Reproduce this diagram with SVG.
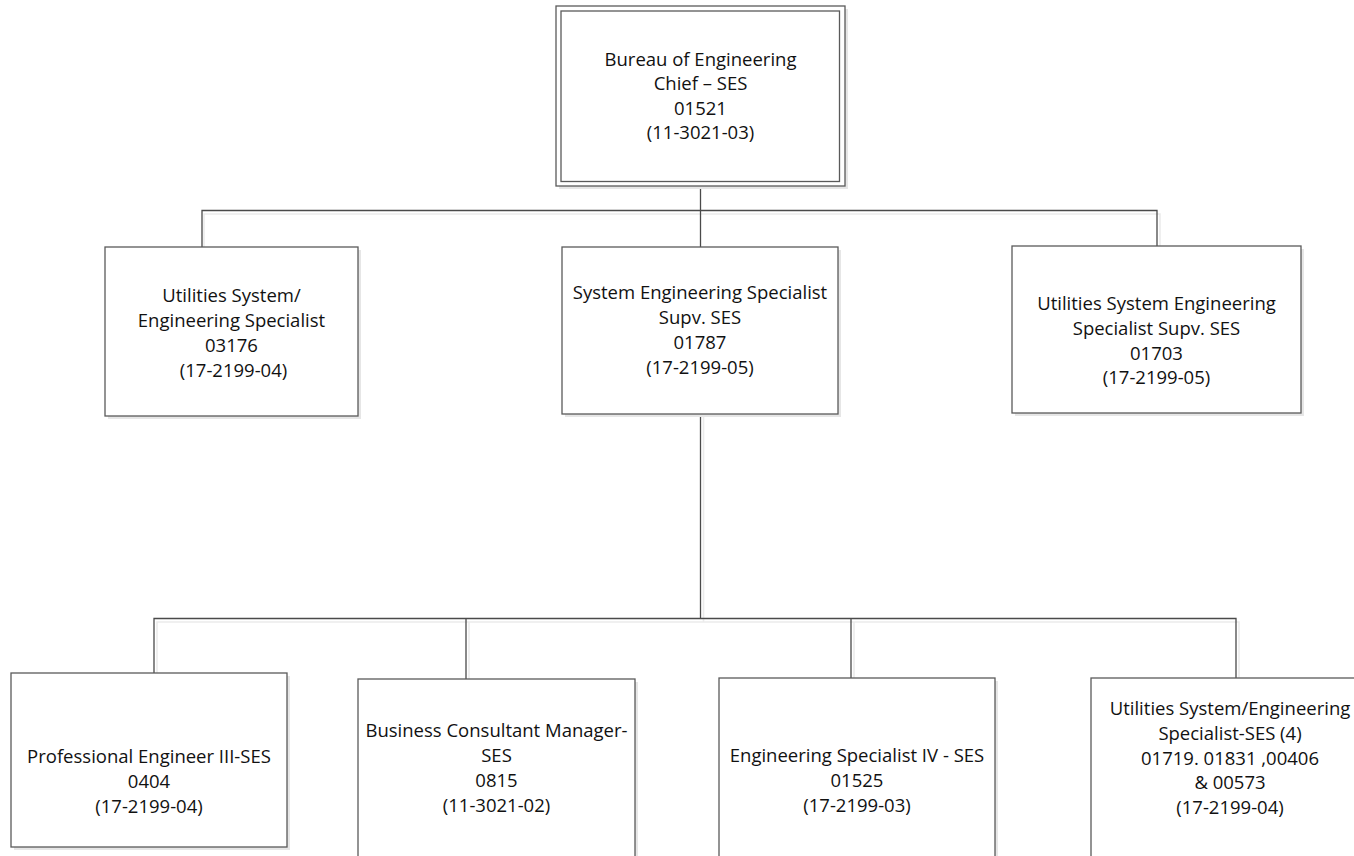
<svg xmlns="http://www.w3.org/2000/svg" width="1354" height="856" viewBox="0 0 1354 856">
  <style>
    .box { fill: #ffffff; stroke: #5a5a5a; stroke-width: 1.3; }
    .shadow { fill: #e6e6e6; stroke: none; }
    .wire { fill: none; stroke: #4a4a4a; stroke-width: 1.3; }
    .wire-shadow { fill: none; stroke: #ebebeb; stroke-width: 1.6; }
    .label { font-family: "Open Sans", "Liberation Sans", sans-serif; font-size: 18.5px; fill: #111111; text-anchor: middle; }
  </style>
  <rect width="1354" height="856" fill="#ffffff"/>

  <!-- connector shadows -->
  <g id="connector-shadows">
    <path class="wire-shadow" d="M204 250 V214 H1160 V249"/>
    <path class="wire-shadow" d="M703.5 417 V622"/>
    <path class="wire-shadow" d="M157 676 V622 H1239 V681"/>
    <path class="wire-shadow" d="M469 682 V622"/>
    <path class="wire-shadow" d="M854 681 V622"/>
  </g>

  <!-- connectors -->
  <g id="connectors">
    <path class="wire" d="M700.5 186 V247"/>
    <path class="wire" d="M202 247 V210.5 H1157 V246"/>
    <path class="wire" d="M700.5 414 V618.5"/>
    <path class="wire" d="M154 673 V618.5 H1236 V678"/>
    <path class="wire" d="M466 679 V618.5"/>
    <path class="wire" d="M851 678 V618.5"/>
  </g>

  <!-- Bureau of Engineering Chief -->
  <g id="node-chief">
    <rect class="shadow" x="559" y="9" width="289" height="180"/>
    <rect class="box" x="556" y="6" width="289" height="180"/>
    <rect class="box" x="561" y="11" width="278.5" height="170.5"/>
    <text class="label" x="700.5" y="65.5">Bureau of Engineering</text>
    <text class="label" x="700.5" y="90">Chief – SES</text>
    <text class="label" x="700.5" y="114.5">01521</text>
    <text class="label" x="700.5" y="139">(11-3021-03)</text>
  </g>

  <!-- Utilities System / Engineering Specialist -->
  <g id="node-utilities-specialist">
    <rect class="shadow" x="108" y="250" width="253" height="169"/>
    <rect class="box" x="105" y="247" width="253" height="169"/>
    <text class="label" x="231.5" y="301.5">Utilities System/</text>
    <text class="label" x="231.5" y="326.5">Engineering Specialist</text>
    <text class="label" x="231.5" y="351.5">03176</text>
    <text class="label" x="233.5" y="376.5">(17-2199-04)</text>
  </g>

  <!-- System Engineering Specialist Supv. -->
  <g id="node-system-supv">
    <rect class="shadow" x="565" y="250" width="276" height="167"/>
    <rect class="box" x="562" y="247" width="276" height="167"/>
    <text class="label" x="700" y="299">System Engineering Specialist</text>
    <text class="label" x="700" y="324">Supv. SES</text>
    <text class="label" x="700" y="349">01787</text>
    <text class="label" x="700" y="374">(17-2199-05)</text>
  </g>

  <!-- Utilities System Engineering Specialist Supv. -->
  <g id="node-utilities-supv">
    <rect class="shadow" x="1015" y="249" width="289" height="167"/>
    <rect class="box" x="1012" y="246" width="289" height="167"/>
    <text class="label" x="1156.5" y="310">Utilities System Engineering</text>
    <text class="label" x="1156.5" y="335">Specialist Supv. SES</text>
    <text class="label" x="1156.5" y="359.5">01703</text>
    <text class="label" x="1156.5" y="384">(17-2199-05)</text>
  </g>

  <!-- Professional Engineer III -->
  <g id="node-professional-engineer">
    <rect class="shadow" x="14" y="676" width="276" height="174"/>
    <rect class="box" x="11" y="673" width="276" height="174"/>
    <text class="label" x="149" y="763">Professional Engineer III-SES</text>
    <text class="label" x="149" y="788">0404</text>
    <text class="label" x="149" y="813">(17-2199-04)</text>
  </g>

  <!-- Business Consultant Manager -->
  <g id="node-business-consultant">
    <rect class="shadow" x="361" y="682" width="277" height="190"/>
    <rect class="box" x="358" y="679" width="277" height="190"/>
    <text class="label" x="496.5" y="737">Business Consultant Manager-</text>
    <text class="label" x="496.5" y="762">SES</text>
    <text class="label" x="496.5" y="787">0815</text>
    <text class="label" x="496.5" y="812">(11-3021-02)</text>
  </g>

  <!-- Engineering Specialist IV -->
  <g id="node-engineering-specialist">
    <rect class="shadow" x="722" y="681" width="276" height="190"/>
    <rect class="box" x="719" y="678" width="276" height="190"/>
    <text class="label" x="857" y="762">Engineering Specialist IV - SES</text>
    <text class="label" x="857" y="787">01525</text>
    <text class="label" x="857" y="812">(17-2199-03)</text>
  </g>

  <!-- Utilities System / Engineering Specialist (4) -->
  <g id="node-utilities-specialists">
    <rect class="shadow" x="1094" y="681" width="290" height="190"/>
    <rect class="box" x="1091" y="678" width="290" height="190"/>
    <text class="label" x="1230" y="715">Utilities System/Engineering</text>
    <text class="label" x="1230" y="740">Specialist-SES (4)</text>
    <text class="label" x="1230" y="765">01719. 01831 ,00406</text>
    <text class="label" x="1230" y="789">&amp; 00573</text>
    <text class="label" x="1230" y="814">(17-2199-04)</text>
  </g>
</svg>
